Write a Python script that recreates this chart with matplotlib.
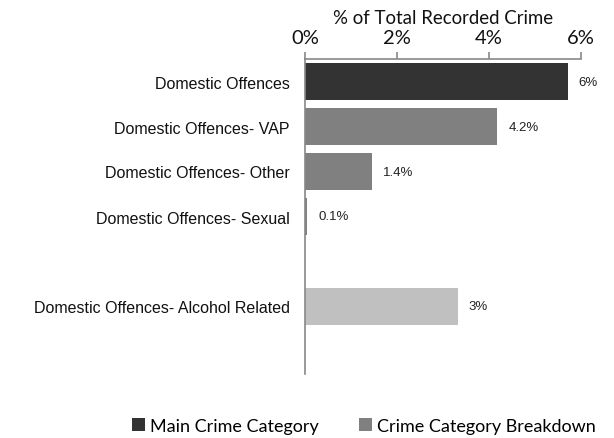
import matplotlib
matplotlib.use("Agg")
import matplotlib.pyplot as plt
from matplotlib.patches import Patch

categories = ["Domestic Offences", "Domestic Offences- VAP", "Domestic Offences- Other",
              "Domestic Offences- Sexual", "", "Domestic Offences- Alcohol Related", ""]
values = [5.71, 4.18, 1.45, 0.05, None, 3.32, None]
value_labels = ["6%", "4.2%", "1.4%", "0.1%", "", "3%", ""]
colors = ["#333333", "#808080", "#808080", "#808080", None, "#c0c0c0", None]
xticks = [0, 2, 4, 6]
xtick_labels = ["0%", "2%", "4%", "6%"]
legend_labels = ["Main Crime Category", "Crime Category Breakdown"]
legend_colors = ["#333333", "#808080"]

fig = plt.figure(figsize=(6.14, 4.39), dpi=100)
ax = fig.add_axes([305/614, 1-375/439, (581-305)/614, (375-60)/439])

for i, (v, c, lab) in enumerate(zip(values, colors, value_labels)):
    if v is None:
        continue
    ax.barh(i, v, height=0.82, color=c, edgecolor="none")
    ax.annotate(lab, (v, i), xytext=(11, 0), textcoords="offset pixels",
                va="center", ha="left", fontsize=9.5, family="Liberation Sans", color="#222222")

ax.set_ylim(len(categories) - 0.5, -0.5)
ax.set_xlim(0, 6)
ax.set_yticks(range(len(categories)))
ax.set_yticklabels(categories, family="Liberation Sans", fontsize=11.5, color="#111111")
ax.tick_params(axis="y", length=0, pad=11)

ax.xaxis.set_ticks_position("top")
ax.xaxis.set_label_position("top")
ax.set_xticks(xticks)
ax.set_xticklabels(xtick_labels, family="Lato", fontsize=14.5, color="#111111")
ax.tick_params(axis="x", direction="out", length=5, color="#888888", width=1.2, pad=4.5)
ax.set_xlabel("% of Total Recorded Crime", family="Lato", fontsize=13.4, labelpad=4, color="#111111")

for s in ["right", "bottom"]:
    ax.spines[s].set_visible(False)
for s in ["top", "left"]:
    ax.spines[s].set_color("#888888")
    ax.spines[s].set_linewidth(1.2)

handles = [Patch(facecolor=c, edgecolor="none") for c in legend_colors]
fig.legend(handles, legend_labels, loc="center", bbox_to_anchor=(0.593, 1-427/439), ncol=2,
           frameon=False, prop={"family": "Lato", "size": 13}, handlelength=0.7, handleheight=0.7,
           handletextpad=0.3, columnspacing=2.2)

fig.savefig("out.png", dpi=100)
